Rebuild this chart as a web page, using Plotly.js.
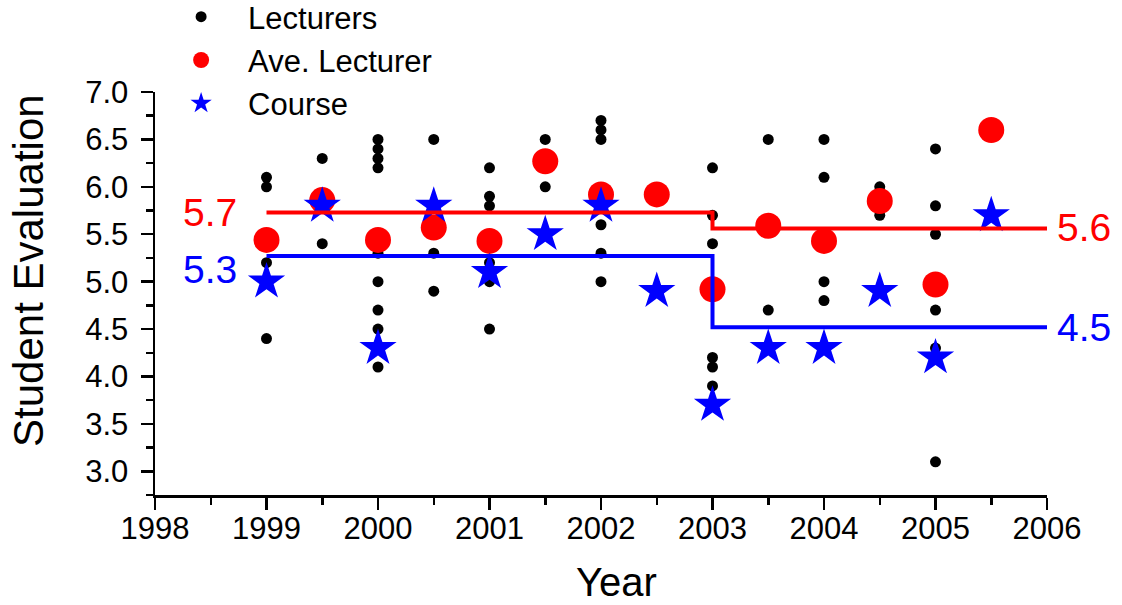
<!DOCTYPE html>
<html>
<head>
<meta charset="utf-8">
<script src="https://cdn.plot.ly/plotly-3.0.1.min.js"></script>
<style>html,body{margin:0;padding:0;background:#fff;}#chart{width:1122px;height:605px;}</style>
</head>
<body>
<div id="chart"></div>
<script>
// Individual lecturer evaluations
const lecturerYears = [1999,1999,1999,1999, 1999.5,1999.5,
  2000,2000,2000,2000,2000,2000,2000,2000,2000,
  2000.5,2000.5,2000.5,
  2001,2001,2001,2001,2001,2001,
  2001.5,2001.5,
  2002,2002,2002,2002,2002,2002,
  2003,2003,2003,2003,2003,2003,
  2003.5,2003.5,
  2004,2004,2004,2004,
  2004.5,2004.5,
  2005,2005,2005,2005,2005,2005];
const lecturerValues = [6.1,6.0,5.2,4.4, 6.3,5.4,
  6.5,6.4,6.3,6.2,5.3,5.0,4.7,4.5,4.1,
  6.5,5.3,4.9,
  6.2,5.9,5.8,5.2,5.0,4.5,
  6.5,6.0,
  6.7,6.6,6.5,5.6,5.3,5.0,
  6.2,5.7,5.4,4.2,4.1,3.9,
  6.5,4.7,
  6.5,6.1,5.0,4.8,
  6.0,5.7,
  6.4,5.8,5.5,4.7,4.3,3.1];

// Semester averages
const semesters = [1999,1999.5,2000,2000.5,2001,2001.5,2002,2002.5,2003,2003.5,2004,2004.5,2005,2005.5];
const aveLecturer = [5.44,5.86,5.44,5.57,5.43,6.27,5.92,5.92,4.92,5.59,5.43,5.85,4.97,6.60];
const courseValues = [5.0,5.8,4.3,5.8,5.1,5.5,5.8,4.9,3.7,4.3,4.3,4.9,4.2,5.7];

// Period means (step lines)
const periodX = [1999, 2003, 2006];
const lecturerMean = [5.73, 5.56, 5.56];
const courseMean = [5.27, 4.52, 4.52];
const meanLabels = ["5.7", "5.3", "5.6", "4.5"];

// Axis titles
const xTitle = "Year";
const yTitle = "Student Evaluation";

const FONT = "Liberation Sans, Arial, sans-serif";

const traces = [
  {x: lecturerYears, y: lecturerValues, type: 'scatter', mode: 'markers', name: 'Lecturers',
   marker: {color: '#000000', size: 11, symbol: 'circle'}},
  {x: semesters, y: aveLecturer, type: 'scatter', mode: 'markers', name: 'Ave. Lecturer',
   marker: {color: '#ff0000', size: 26, symbol: 'circle'}},
  {x: semesters, y: courseValues, type: 'scatter', mode: 'markers', name: 'Course',
   marker: {color: '#0000ff', size: 28, symbol: 'star'}},
  {x: periodX, y: lecturerMean, type: 'scatter', mode: 'lines', showlegend: false,
   line: {color: '#ff0000', width: 4, shape: 'hv'}},
  {x: periodX, y: courseMean, type: 'scatter', mode: 'lines', showlegend: false,
   line: {color: '#0000ff', width: 4, shape: 'hv'}}
];

const layout = {
  width: 1122, height: 605,
  margin: {l: 155, r: 75, t: 92, b: 110, autoexpand: false},
  paper_bgcolor: '#ffffff', plot_bgcolor: '#ffffff',
  font: {family: FONT, color: '#000000', size: 31},
  showlegend: true,
  legend: {x: -0.001, y: 1.253, xanchor: 'left', yanchor: 'top', bgcolor: 'rgba(0,0,0,0)',
           itemwidth: 84,
           font: {family: FONT, size: 31, color: '#000'}, tracegroupgap: 0},
  xaxis: {
    range: [1998, 2006], dtick: 1, tick0: 1998, tickformat: 'd',
    showgrid: false, zeroline: false, showline: true, linecolor: '#000', linewidth: 2.5,
    ticks: 'outside', ticklen: 12, tickwidth: 2.5, tickcolor: '#000',
    minor: {dtick: 0.5, tick0: 1998, ticks: 'outside', ticklen: 7, tickwidth: 2.5, tickcolor: '#000', showgrid: false},
    tickfont: {family: FONT, size: 31}, ticklabelstandoff: -8
  },
  yaxis: {
    range: [2.75, 7.0001], dtick: 0.5, tick0: 3, tickformat: '.1f',
    showgrid: false, zeroline: false, showline: true, linecolor: '#000', linewidth: 2.5,
    ticks: 'outside', ticklen: 12, tickwidth: 2.5, tickcolor: '#000',
    minor: {dtick: 0.25, tick0: 3, ticks: 'outside', ticklen: 7, tickwidth: 2.5, tickcolor: '#000', showgrid: false},
    tickfont: {family: FONT, size: 31}, ticklabelstandoff: 6
  },
  annotations: [
    {x: 0.517, y: -0.2159, xref: 'paper', yref: 'paper', text: xTitle, showarrow: false,
     xanchor: 'center', yanchor: 'middle', font: {family: FONT, size: 40, color: '#000'}},
    {x: -0.1424, y: 0.5583, xref: 'paper', yref: 'paper', text: yTitle, showarrow: false, textangle: -90,
     xanchor: 'center', yanchor: 'middle', font: {family: FONT, size: 42, color: '#000'}},
    {x: periodX[0], y: lecturerMean[0], xref: 'x', yref: 'y', text: meanLabels[0], showarrow: false,
     xanchor: 'right', yanchor: 'middle', xshift: -28, font: {family: FONT, size: 39, color: '#ff0000'}},
    {x: periodX[0], y: courseMean[0], xref: 'x', yref: 'y', text: meanLabels[1], showarrow: false,
     xanchor: 'right', yanchor: 'middle', xshift: -28, yshift: -13, font: {family: FONT, size: 39, color: '#0000ff'}},
    {x: periodX[2], y: lecturerMean[2], xref: 'x', yref: 'y', text: meanLabels[2], showarrow: false,
     xanchor: 'left', yanchor: 'middle', xshift: 8, yshift: 1, font: {family: FONT, size: 39, color: '#ff0000'}},
    {x: periodX[2], y: courseMean[2], xref: 'x', yref: 'y', text: meanLabels[3], showarrow: false,
     xanchor: 'left', yanchor: 'middle', xshift: 8, font: {family: FONT, size: 39, color: '#0000ff'}}
  ]
};

Plotly.newPlot('chart', traces, layout, {displayModeBar: false, staticPlot: true});
</script>
</body>
</html>
